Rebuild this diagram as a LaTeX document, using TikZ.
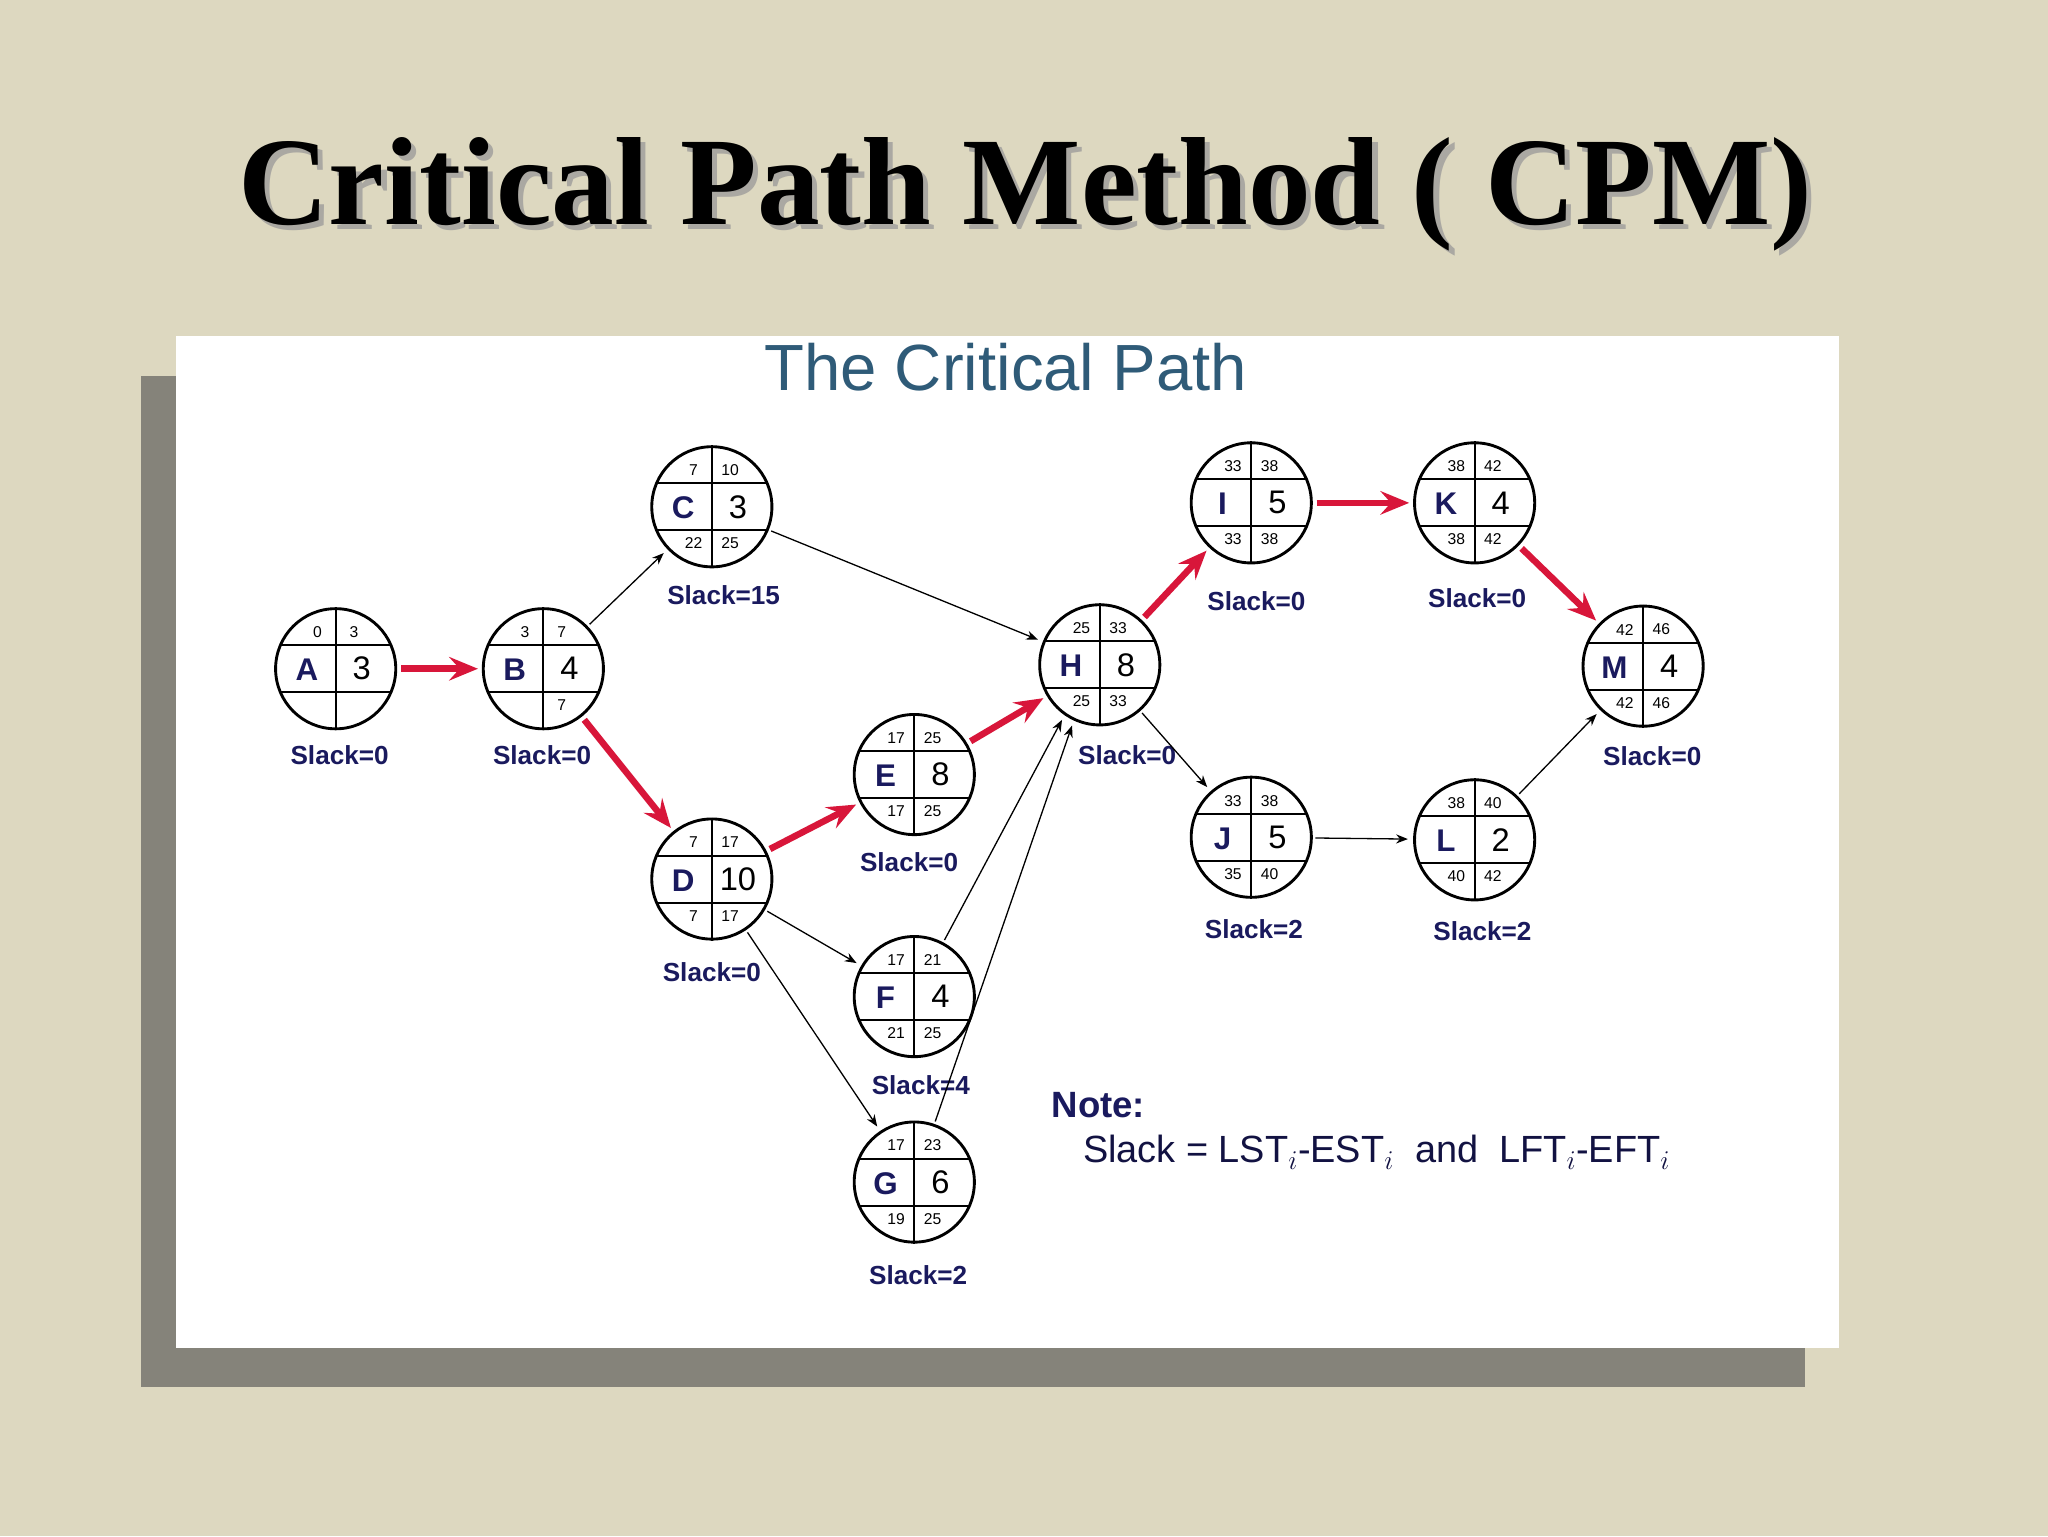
\documentclass[tikz,border=0pt]{standalone}
\usepackage{fontspec}
\setmainfont{Liberation Serif}
\setsansfont{Liberation Sans}
\usetikzlibrary{arrows.meta,calc}
\definecolor{bgc}{HTML}{DDD8C0}
\definecolor{shad}{HTML}{85837A}
\definecolor{navy}{HTML}{1A1A5E}
\definecolor{subt}{HTML}{2F5B78}
\definecolor{cred}{HTML}{D8163A}
\newcommand{\cpmnode}[9]{%
  \node[circle,draw,line width=2.2pt,minimum size=92pt,inner sep=0pt] (#1) at (#2,#3) {};
  \draw[line width=1.5pt] (#1.north) -- (#1.south);
  \draw[line width=1.5pt] ($(#1.center)+(-43,-18)$) -- ($(#1.center)+(43,-18)$);
  \draw[line width=1.5pt] ($(#1.center)+(-43,18)$) -- ($(#1.center)+(43,18)$);
  \node[small] at ($(#1.center)+(-14,-28)$) {#6};
  \node[small] at ($(#1.center)+(14,-28)$) {#7};
  \node[small] at ($(#1.center)+(-14,28)$) {#8};
  \node[small] at ($(#1.center)+(14,28)$) {#9};
  \node[letter] at ($(#1.center)+(-22,1)$) {#4};
  \node[dur] at ($(#1.center)+(20,0)$) {#5};
}
\tikzset{
  small/.style={font=\sffamily\fontsize{12}{12}\selectfont,inner sep=0pt},
  letter/.style={font=\sffamily\bfseries\fontsize{24}{24}\selectfont,text=navy,inner sep=0pt},
  dur/.style={font=\sffamily\fontsize{25}{25}\selectfont,inner sep=0pt},
  slack/.style={font=\sffamily\bfseries\fontsize{20}{20}\selectfont,text=navy,inner sep=0pt},
  crit/.style={draw=cred,line width=5pt,-{Stealth[length=22pt,width=18pt,inset=8pt]},shorten <=3pt,shorten >=3pt},
  thin/.style={draw,line width=1pt,-{Stealth[length=9pt,width=7pt]},shorten <=2pt,shorten >=4pt}
}
\begin{document}
\begin{tikzpicture}[x=1pt,y=-1pt]
\fill[bgc] (0,0) rectangle (1568,1176);
\useasboundingbox (0,0) rectangle (1568,1176);
\fill[shad] (108,288) rectangle (1382,1062);
\fill[white] (135,257) rectangle (1408,1032);
\node[font=\bfseries\fontsize{96}{100}\selectfont,text=shad!70] at (789,153) {Critical Path Method ( CPM)};
\node[font=\bfseries\fontsize{96}{100}\selectfont] (title) at (785,149) {Critical Path Method ( CPM)};
\node[font=\sffamily\fontsize{50}{50}\selectfont,text=subt] (sub) at (770,281) {The Critical Path};
\cpmnode{A}{257}{512}{A}{3}{0}{3}{}{}
\cpmnode{B}{416}{512}{B}{4}{3}{7}{}{7}
\cpmnode{C}{545}{388}{C}{3}{7}{10}{22}{25}
\cpmnode{D}{545}{673}{D}{10}{7}{17}{7}{17}
\cpmnode{E}{700}{593}{E}{8}{17}{25}{17}{25}
\cpmnode{F}{700}{763}{F}{4}{17}{21}{21}{25}
\cpmnode{G}{700}{905}{G}{6}{17}{23}{19}{25}
\cpmnode{H}{842}{509}{H}{8}{25}{33}{25}{33}
\cpmnode{I}{958}{385}{I}{5}{33}{38}{33}{38}
\cpmnode{J}{958}{641}{J}{5}{33}{38}{35}{40}
\cpmnode{K}{1129}{385}{K}{4}{38}{42}{38}{42}
\cpmnode{L}{1129}{643}{L}{2}{38}{40}{40}{42}
\cpmnode{M}{1258}{510}{M}{4}{42}{46}{42}{46}
\node[slack] (sA) at (260,578) {Slack=0};
\node[slack] (sB) at (415,578) {Slack=0};
\node[slack] (sC) at (554,456) {Slack=15};
\node[slack] (sD) at (545,744) {Slack=0};
\node[slack] (sE) at (696,660) {Slack=0};
\node[slack] (sF) at (705,831) {Slack=4};
\node[slack] (sG) at (703,976) {Slack=2};
\node[slack] (sH) at (863,578) {Slack=0};
\node[slack] (sI) at (962,460) {Slack=0};
\node[slack] (sJ) at (960,711) {Slack=2};
\node[slack] (sK) at (1131,458) {Slack=0};
\node[slack] (sL) at (1135,713) {Slack=2};
\node[slack] (sM) at (1265,579) {Slack=0};
\draw[crit] (A) -- (B);
\draw[crit] (B) -- (D);
\draw[crit] (D) -- (E);
\draw[crit] (E) -- (H);
\draw[crit] (H) -- (I);
\draw[crit] (I) -- (K);
\draw[crit] (K) -- (M);
\draw[thin] (B) -- (C);
\draw[thin] (C) -- (H);
\draw[thin] (D) -- (F);
\draw[thin] (D) -- (G);
\draw[thin] (F) -- (H.-125);
\draw[thin] (G) -- (H.-115);
\draw[thin] (H) -- (J);
\draw[thin] (J) -- (L);
\draw[thin] (L) -- (M);
\node[anchor=west,font=\sffamily\bfseries\fontsize{28}{28}\selectfont,text=navy,inner sep=0pt] (note) at (805,846) {Note:};
\node[anchor=west,font=\sffamily\fontsize{29}{29}\selectfont,text=navy!70!black,inner sep=0pt] (form) at (829,882) {Slack = LST$_{i}$-EST$_{i}$\ \ and\ \ LFT$_{i}$-EFT$_{i}$};
\end{tikzpicture}
\end{document}
